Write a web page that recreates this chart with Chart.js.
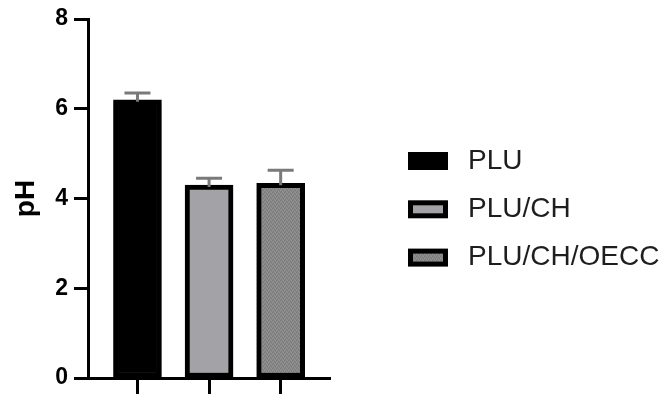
<!DOCTYPE html>
<html>
<head>
<meta charset="utf-8">
<script src="https://cdn.jsdelivr.net/npm/chart.js@4/dist/chart.umd.min.js"></script>
<style>
  html, body { margin: 0; padding: 0; background: #ffffff; }
  #wrap { width: 668px; height: 394px; }
</style>
</head>
<body>
<div id="wrap"><canvas id="c" width="668" height="394"></canvas></div>
<script>
// Groups, mean pH and upper error (SD) per group
const categories = ['PLU', 'PLU/CH', 'PLU/CH/OECC'];
const phMeans = [6.2, 4.3, 4.34];
const phErrors = [0.15, 0.15, 0.29];
const yTicks = [0, 2, 4, 6, 8];
const groupPositions = [1, 2, 3];

const FONT = '"Liberation Sans", Arial, Helvetica, sans-serif';

// Fine-grained fill used for the third group
function grainPattern() {
  const c = document.createElement('canvas');
  c.width = 4; c.height = 4;
  const g = c.getContext('2d');
  g.fillStyle = '#878787';
  g.fillRect(0, 0, 4, 4);
  g.fillStyle = '#7b7b7b';
  g.fillRect(0, 0, 1, 1); g.fillRect(2, 1, 1, 1); g.fillRect(1, 3, 1, 1); g.fillRect(3, 2, 1, 1);
  g.fillStyle = '#939393';
  g.fillRect(1, 1, 1, 1); g.fillRect(3, 0, 1, 1); g.fillRect(0, 2, 1, 1); g.fillRect(2, 3, 1, 1);
  return document.getElementById('c').getContext('2d').createPattern(c, 'repeat');
}
const fills = ['#000000', '#a3a3a7', grainPattern()];

// Upper error bars drawn on top of each bar
const errorBars = {
  id: 'errorBars',
  afterDatasetsDraw(chart) {
    const ctx = chart.ctx;
    const yScale = chart.scales.y;
    const meta = chart.getDatasetMeta(0);
    ctx.save();
    ctx.strokeStyle = '#7a7a7a';
    ctx.lineWidth = 3;
    meta.data.forEach((bar, i) => {
      const top = yScale.getPixelForValue(phMeans[i] + phErrors[i]);
      ctx.beginPath();
      ctx.moveTo(bar.x, bar.y + 2);
      ctx.lineTo(bar.x, top);
      ctx.moveTo(bar.x - 13, top);
      ctx.lineTo(bar.x + 13, top);
      ctx.stroke();
    });
    ctx.restore();
  }
};

// Legend at the right: outlined swatch plus group name
const sideLegend = {
  id: 'sideLegend',
  afterDraw(chart) {
    const ctx = chart.ctx;
    const area = chart.chartArea;
    const bx = area.right + 78;
    const bw = 40, bh = 18, border = 5;
    ctx.save();
    categories.forEach((name, i) => {
      const cy = area.top + 142 + i * 48.3;
      const by = cy - bh / 2;
      ctx.fillStyle = '#000000';
      ctx.fillRect(bx, by, bw, bh);
      if (i > 0) {
        ctx.fillStyle = fills[i];
        ctx.fillRect(bx + border, by + border, bw - 2 * border, bh - 2 * border);
      }
      ctx.fillStyle = '#1e1e1e';
      ctx.font = '28px ' + FONT;
      ctx.textBaseline = 'middle';
      ctx.textAlign = 'left';
      ctx.fillText(name, bx + 60, cy);
    });
    ctx.restore();
  }
};

new Chart(document.getElementById('c'), {
  type: 'bar',
  data: {
    datasets: [{
      label: 'pH',
      data: groupPositions.map((x, i) => ({ x: x, y: phMeans[i] })),
      backgroundColor: fills,
      borderColor: '#000000',
      borderWidth: 5,
      borderSkipped: false,
      barThickness: 48
    }]
  },
  options: {
    responsive: false,
    animation: false,
    devicePixelRatio: 1,
    layout: { padding: { left: 0, right: 338, top: 19, bottom: 0 } },
    plugins: {
      legend: { display: false },
      tooltip: { enabled: false }
    },
    scales: {
      x: {
        type: 'linear',
        offset: false,
        min: 0.323,
        max: 3.689,
        afterBuildTicks(scale) {
          scale.ticks = groupPositions.map(v => ({ value: v }));
        },
        ticks: { display: false },
        grid: {
          offset: false,
          drawOnChartArea: false,
          drawTicks: true,
          tickLength: 16,
          tickWidth: 3,
          tickColor: '#000000'
        },
        border: { display: true, color: '#000000', width: 3 }
      },
      y: {
        min: 0,
        max: 8,
        afterBuildTicks(scale) {
          scale.ticks = yTicks.map(v => ({ value: v }));
        },
        ticks: {
          color: '#000000',
          padding: 6,
          font: { family: FONT, size: 23, weight: 'bold', lineHeight: 0.8 }
        },
        grid: {
          drawOnChartArea: false,
          drawTicks: true,
          tickLength: 15,
          tickWidth: 3,
          tickColor: '#000000'
        },
        border: { display: true, color: '#000000', width: 3 },
        title: {
          display: true,
          text: 'pH',
          color: '#000000',
          padding: { top: 9, bottom: 6.6 },
          font: { family: FONT, size: 28, weight: 'bold' }
        }
      }
    }
  },
  plugins: [errorBars, sideLegend]
});
</script>
</body>
</html>
